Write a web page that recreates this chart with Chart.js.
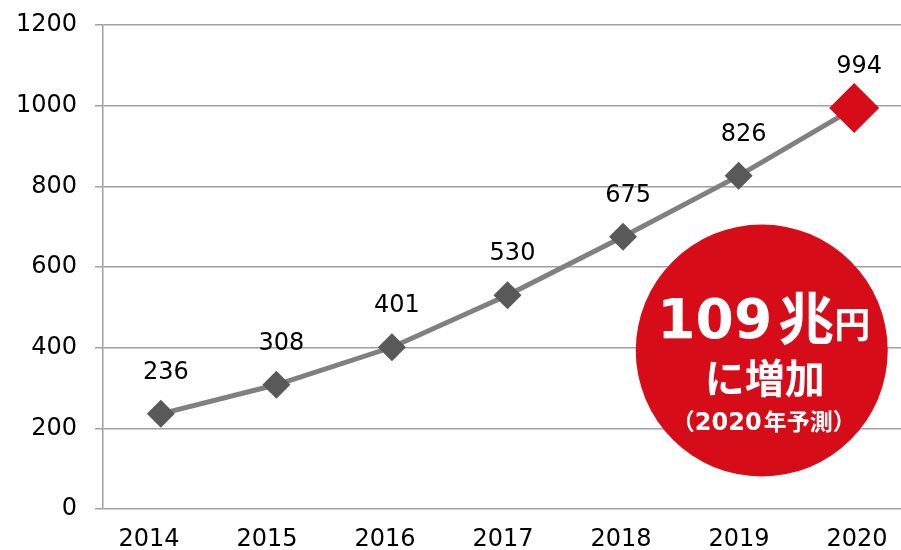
<!DOCTYPE html>
<html><head><meta charset="utf-8">
<script src="https://cdn.jsdelivr.net/npm/chart.js@4"></script>
<style>html,body{margin:0;padding:0;background:#fff;overflow:hidden}#wrap{width:937px;height:550px;position:relative}</style>
</head><body><div id="wrap"><canvas id="c" width="937" height="550"></canvas></div>
<script>
const categories = ['2014','2015','2016','2017','2018','2019','2020'];
const values = [236, 308, 401, 530, 675, 826, 994];
const yTicks = [0, 200, 400, 600, 800, 1000, 1200];
const calloutBig = '109';
const calloutUnit1 = '兆';
const calloutUnit2 = '円';
const calloutLine2 = 'に増加';
const calloutLine3 = ['（', '2020', '年予測', '）'];

const RED = '#D70C19';
const last = values.length - 1;
const ptRadius = values.map((v,i)=> i===last ? 25 : 14);
const ptColor = values.map((v,i)=> i===last ? RED : '#595959');
const AXIS_FONT = {family:'"DejaVu Sans", Verdana, sans-serif', size:24};
const LAT = '"DejaVu Sans", Verdana, sans-serif';
const CJK = '"Noto Sans CJK JP", sans-serif';

const labelPlugin = {
  id:'valueLabels',
  afterDatasetsDraw(chart){
    const ctx = chart.ctx, meta = chart.getDatasetMeta(0);
    ctx.save();
    ctx.font = '24px ' + LAT;
    ctx.fillStyle = '#000';
    ctx.textAlign = 'center';
    ctx.textBaseline = 'middle';
    meta.data.forEach((p,i)=> ctx.fillText(String(values[i]), p.x + 5, p.y - 41));
    ctx.restore();
  }
};

function drawRun(ctx, parts, centerX, baseY){
  let total = 0;
  const ws = parts.map(p=>{ ctx.font = p[1]; const w = ctx.measureText(p[0]).width; total += w + (p[2]||0); return w; });
  let x = centerX - total/2;
  parts.forEach((p,i)=>{ x += (p[2]||0); ctx.font = p[1]; ctx.fillText(p[0], x, baseY + (p[3]||0)); x += ws[i]; });
}

const calloutPlugin = {
  id:'callout',
  beforeDatasetsDraw(chart){
    const ctx = chart.ctx, xs = chart.scales.x, ys = chart.scales.y;
    const cx = xs.getPixelForValue(5.2), cy = ys.getPixelForValue(393);
    ctx.save();
    ctx.beginPath(); ctx.arc(cx, cy, 126, 0, Math.PI*2); ctx.fillStyle = RED; ctx.fill();
    ctx.fillStyle = '#fff';
    ctx.textBaseline = 'alphabetic';
    ctx.textAlign = 'left';
    drawRun(ctx, [
      [calloutBig, 'bold 55px ' + LAT, 0, 0],
      [calloutUnit1, 'bold 56px ' + CJK, 6, 1],
      [calloutUnit2, 'bold 36px ' + CJK, 0, 0]
    ], cx + 2, cy - 12);
    drawRun(ctx, [[calloutLine2, 'bold 40px ' + CJK, 0, 0]], cx + 3, cy + 43);
    drawRun(ctx, [
      [calloutLine3[0], 'bold 23px ' + CJK, 0, 0],
      [calloutLine3[1], 'bold 24px ' + LAT, 0, 0],
      [calloutLine3[2], 'bold 23px ' + CJK, 2, 0],
      [calloutLine3[3], 'bold 23px ' + CJK, 0, 0]
    ], cx + 2, cy + 80);
    ctx.restore();
  }
};

new Chart(document.getElementById('c'), {
  type:'line',
  data:{
    labels: categories,
    datasets:[{
      data: values,
      borderColor:'#808080',
      borderWidth:5,
      tension:0,
      pointStyle:'rectRot',
      pointRadius: ptRadius,
      pointHoverRadius: ptRadius,
      pointBackgroundColor: ptColor,
      pointBorderColor: ptColor,
      pointBorderWidth:0
    }]
  },
  options:{
    responsive:false,
    animation:false,
    events:[],
    layout:{padding:{top:25,left:0,right:0,bottom:0}},
    plugins:{legend:{display:false}, tooltip:{enabled:false}},
    scales:{
      x:{
        offset:true,
        grid:{display:false, drawTicks:false},
        border:{display:false},
        ticks:{display:false},
        afterFit(s){ s.height = 0; s.paddingLeft = 0; s.paddingRight = 0; }
      },
      xLabels:{
        type:'linear', position:'bottom',
        min:-0.39, max:6.466,
        afterBuildTicks(s){ s.ticks = categories.map((c,i)=>({value:i})); },
        grid:{display:false, drawTicks:false},
        border:{display:false},
        ticks:{font:AXIS_FONT, color:'#000', padding:16, maxRotation:0, autoSkip:false, callback:(v)=>categories[v]},
        afterFit(s){ s.height = 41; s.paddingLeft = 0; s.paddingRight = 0; }
      },
      y:{
        min:0, max:1200,
        afterBuildTicks(s){ s.ticks = yTicks.map(v=>({value:v})); },
        grid:{color:'#a0a0a0', lineWidth:1.5, tickLength:8, drawTicks:true},
        border:{display:true, color:'#a0a0a0', width:1.5},
        ticks:{font:AXIS_FONT, color:'#000', padding:18, callback:(v)=>String(v)},
        afterFit(s){ s.width = 103; s.paddingTop = 0; s.paddingBottom = 0; }
      }
    }
  },
  plugins:[calloutPlugin, labelPlugin]
});
</script>
</body></html>
